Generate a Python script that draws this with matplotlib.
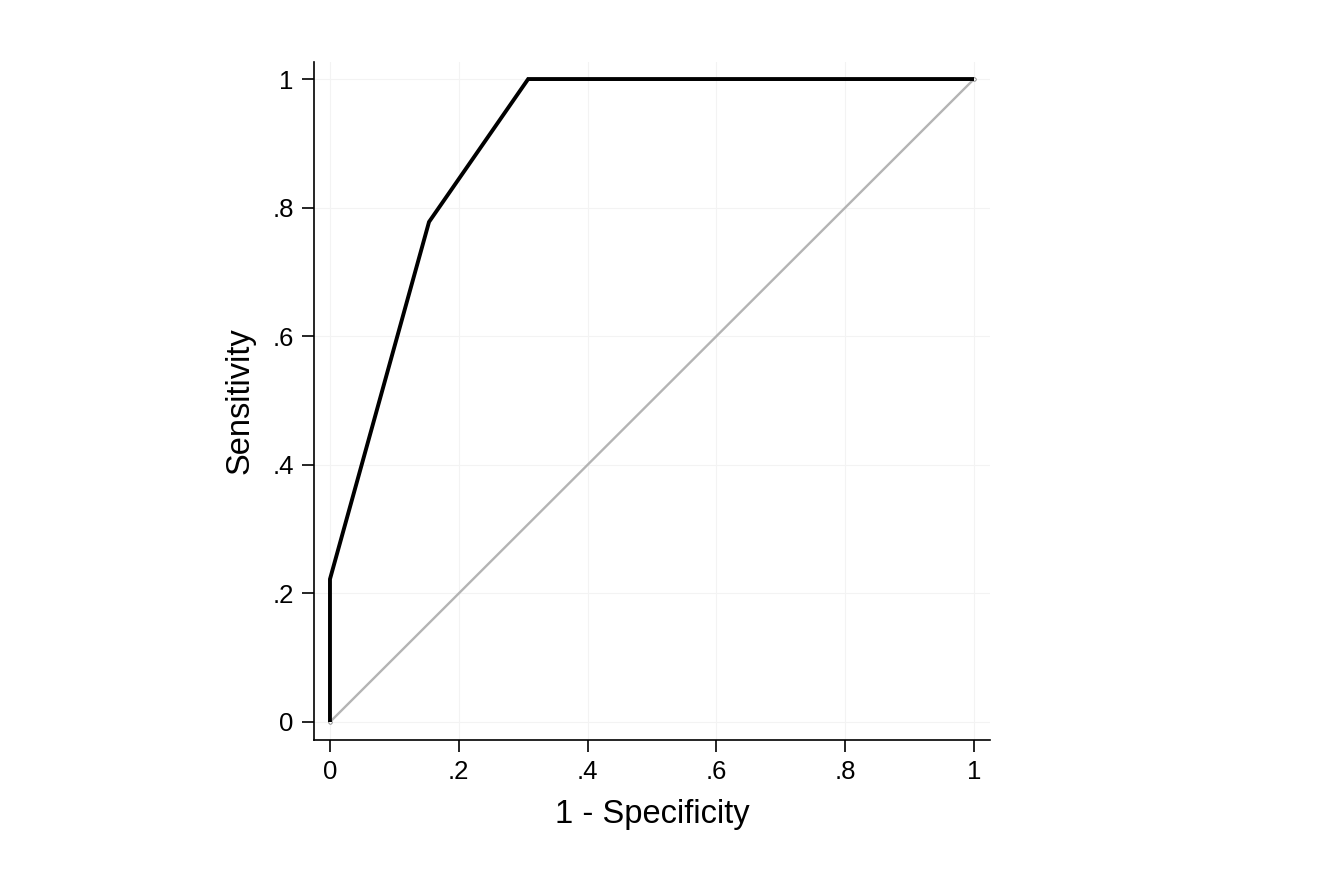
import matplotlib
matplotlib.use("Agg")
import matplotlib.pyplot as plt

plt.rcParams['font.family'] = ['Liberation Sans', 'DejaVu Sans']

# ROC data
fpr = [0.0, 0.0, 0.1538, 0.3077, 1.0]
tpr = [0.0, 0.2222, 0.7778, 1.0, 1.0]
ref_x = [0.0, 1.0]
ref_y = [0.0, 1.0]
ticks = [0, 0.2, 0.4, 0.6, 0.8, 1.0]
tick_labels = ['0', '.2', '.4', '.6', '.8', '1']

fig = plt.figure(figsize=(13.29, 8.86), dpi=100)
ax = fig.add_axes([314/1329, (886-740)/886, 676/1329, 678/886])

ax.plot(ref_x, ref_y, color='#b4b4b4', lw=1.7, zorder=2,
        marker='o', ms=2.5, mfc='white', mec='#808080', mew=0.6)
ax.plot(fpr, tpr, color='black', lw=2.8, zorder=3,
        solid_joinstyle='miter', solid_capstyle='butt')

ax.set_xlim(-0.0248, 1.0248)
ax.set_ylim(-0.028, 1.0265)
ax.set_xticks(ticks)
ax.set_xticklabels(tick_labels)
ax.set_yticks(ticks)
ax.set_yticklabels(tick_labels)
ax.grid(True, color='#f3f3f3', lw=0.8, zorder=0)
ax.set_axisbelow(True)

for s in ['top', 'right']:
    ax.spines[s].set_visible(False)
for s in ['left', 'bottom']:
    ax.spines[s].set_linewidth(1.2)

ax.tick_params(axis='both', direction='out', length=8.5, width=1.2,
               labelsize=18.5, pad=6)
ax.set_xlabel('1 - Specificity', fontsize=23.5, labelpad=11)
ax.set_ylabel('Sensitivity', fontsize=23.5, labelpad=12)

fig.savefig('out.png', dpi=100)
